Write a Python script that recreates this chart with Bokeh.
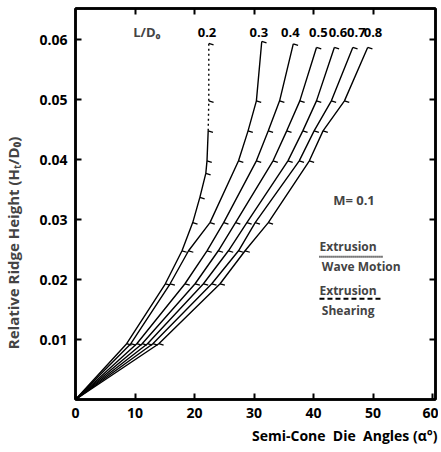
from bokeh.plotting import figure
from bokeh.models import Range1d, LinearAxis, FixedTicker, Label, PrintfTickFormatter, Title
from bokeh.embed import file_html
from bokeh.resources import INLINE

# ---- data ----
ld_labels = ["0.2", "0.3", "0.4", "0.5", "0.6", "0.7", "0.8"]

# semi-cone die angle (deg) vs relative ridge height for each L/D0
alpha_02 = [0, 8.6, 15.1, 17.9, 19.7, 20.9, 21.9, 22.1, 22.3, 22.4, 22.4]
height_02 = [0, 0.0093, 0.0193, 0.0248, 0.0295, 0.0337, 0.0377, 0.0398, 0.0448, 0.0498, 0.0594]

alpha_03 = [0, 9.3, 15.9, 19.0, 22.6, 27.4, 29.0, 30.4, 31.3]
height_03 = [0, 0.0093, 0.0193, 0.0248, 0.0295, 0.0398, 0.0448, 0.0498, 0.0597]

alpha_04 = [0, 10.3, 18.4, 22.1, 24.9, 30.4, 32.4, 34.3, 36.6]
height_04 = [0, 0.0093, 0.0193, 0.0248, 0.0295, 0.0398, 0.0448, 0.0498, 0.0593]

alpha_05 = [0, 11.2, 20.1, 24.0, 26.9, 33.2, 35.5, 37.7, 40.5]
height_05 = [0, 0.0093, 0.0193, 0.0248, 0.0295, 0.0398, 0.0448, 0.0498, 0.0587]

alpha_06 = [0, 12.1, 21.5, 25.7, 28.8, 35.7, 38.2, 40.5, 43.5]
height_06 = [0, 0.0093, 0.0193, 0.0248, 0.0295, 0.0398, 0.0448, 0.0498, 0.0587]

alpha_07 = [0, 13.0, 22.9, 27.4, 30.2, 37.6, 40.1, 43.0, 46.6]
height_07 = [0, 0.0093, 0.0193, 0.0248, 0.0295, 0.0398, 0.0448, 0.0498, 0.0587]

alpha_08 = [0, 14.0, 24.3, 28.5, 32.4, 39.3, 41.6, 45.2, 49.1]
height_08 = [0, 0.0093, 0.0193, 0.0248, 0.0295, 0.0398, 0.0448, 0.0498, 0.0587]

x_ticks = [0, 10, 20, 30, 40, 50, 60]
y_ticks = [0.01, 0.02, 0.03, 0.04, 0.05, 0.06]

FONT = "Open Sans"
NBSP = "\u00a0"

p = figure(width=438, height=450, output_backend="svg", toolbar_location=None,
           x_range=Range1d(0, 60.5), y_range=Range1d(0, 0.0652),
           min_border_left=73, min_border_right=3, min_border_top=8, min_border_bottom=51,
           x_axis_location=None, y_axis_location=None)
p.grid.visible = False
p.background_fill_color = "white"
p.border_fill_color = "white"
p.outline_line_color = "black"
p.outline_line_width = 2.5

def style_axis(ax, ticks, show_labels):
    ax.ticker = FixedTicker(ticks=ticks)
    ax.major_tick_in = 6
    ax.major_tick_out = 0
    ax.minor_tick_line_color = None
    ax.major_tick_line_width = 2
    ax.major_tick_line_color = "black"
    ax.axis_line_color = "black"
    ax.axis_line_width = 2.5
    if show_labels:
        ax.major_label_text_font = FONT
        ax.major_label_text_font_style = "bold"
        ax.major_label_text_font_size = "14px"
        ax.major_label_text_color = "black"
    else:
        ax.major_label_overrides = {t: "" for t in ticks}
        ax.major_label_text_font_size = "1px"
        ax.major_label_standoff = 0

x_title = "Semi-Cone" + NBSP * 2 + "Die" + NBSP * 2 + "Angles" + NBSP + "(α°)"
y_title = "Relative  Ridge  Height (Hₜ/D₀)"

bottom = LinearAxis()
style_axis(bottom, x_ticks, True)
bottom.major_label_standoff = 8
p.add_layout(bottom, "below")

xt = Title(text=x_title, align="right", text_font=FONT, text_font_style="bold",
           text_font_size="14px", text_color="black", standoff=6, offset=-2)
p.add_layout(xt, "below")

left = LinearAxis(formatter=PrintfTickFormatter(format="%.2f"))
style_axis(left, y_ticks, True)
left.major_label_standoff = 8
left.axis_label = y_title + NBSP * 18
left.axis_label_standoff = 13
left.axis_label_text_font = FONT
left.axis_label_text_font_style = "bold"
left.axis_label_text_font_size = "15px"
p.add_layout(left, "left")

top = LinearAxis()
style_axis(top, x_ticks[1:-1], False)
p.add_layout(top, "above")

right = LinearAxis()
style_axis(right, y_ticks, False)
p.add_layout(right, "right")

curves = [(alpha_02, height_02), (alpha_03, height_03), (alpha_04, height_04),
          (alpha_05, height_05), (alpha_06, height_06), (alpha_07, height_07),
          (alpha_08, height_08)]

for i, (xs, ys) in enumerate(curves):
    if i == 0:
        cut = ys.index(0.0448) + 1
        p.line(xs[:cut], ys[:cut], line_color="black", line_width=1.4)
        p.line(xs[cut - 1:], ys[cut - 1:], line_color="black", line_width=1.4, line_dash="2 3")
    else:
        p.line(xs, ys, line_color="black", line_width=1.4)
    p.ray(x=xs[1:], y=ys[1:], length=5, length_units="screen", angle=-0.3,
          line_color="black", line_width=1.3)

# curve labels
label_x = [22.1, 30.8, 36.1, 40.8, 44.1, 47.2, 50.0]
for lx, lt in zip(label_x, ld_labels):
    p.add_layout(Label(x=lx, y=0.0612, text=lt, text_align="center", text_baseline="middle",
                       text_font=FONT, text_font_style="bold", text_font_size="13px",
                       text_color="black"))
p.add_layout(Label(x=12.0, y=0.0612, text="L/D₀", text_align="center", text_baseline="middle",
                   text_font=FONT, text_font_style="bold", text_font_size="13px"))

p.add_layout(Label(x=46.8, y=0.0333, text="M= 0.1", text_align="center", text_baseline="middle",
                   text_font=FONT, text_font_style="bold", text_font_size="13px"))

legend_items = [("Extrusion", 41.0, 0.0255), ("Wave Motion", 41.4, 0.0222),
                ("Extrusion", 41.0, 0.0182), ("Shearing", 41.4, 0.0148)]
for t, lx, ly in legend_items:
    p.add_layout(Label(x=lx, y=ly, text=t, text_align="left", text_baseline="middle",
                       text_font=FONT, text_font_style="bold", text_font_size="12px"))

# legend line samples
p.line([41.0, 51.6], [0.0238, 0.0238], line_color="black", line_width=1.8, line_dash="1 1")
p.line([41.0, 51.6], [0.0168, 0.0168], line_color="black", line_width=2, line_dash="5 3")

open("out.html", "w").write(file_html(p, INLINE))
